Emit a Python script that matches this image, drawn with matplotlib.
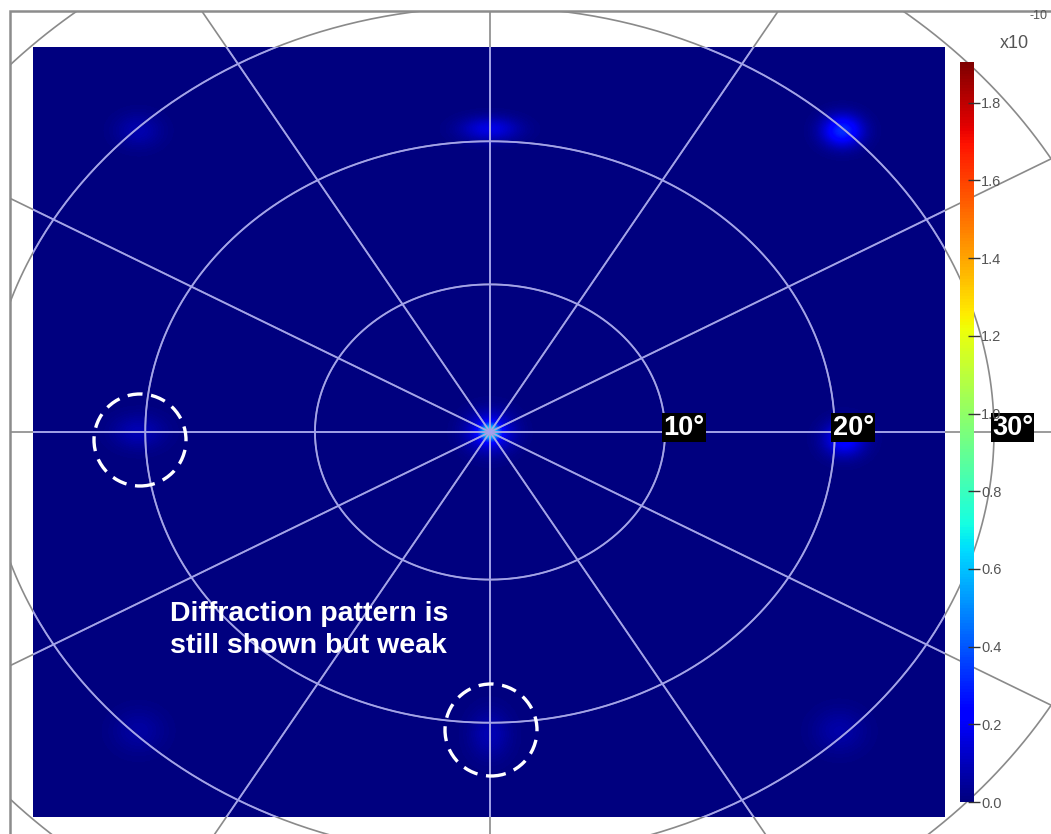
import numpy as np
import matplotlib
matplotlib.use("Agg")
import matplotlib.pyplot as plt
from matplotlib.patches import Rectangle, Ellipse
from matplotlib.colors import Normalize
from matplotlib.cm import ScalarMappable

# ---------------- data ----------------
# diffraction spots, positions in sin(theta) units, peak intensity in 1e-10
spot_x = [0.0, 0.0, 0.0, 0.0, 0.350, -0.349, -0.349, 0.352, 0.0, -0.349, 0.347]
spot_y = [0.0, 0.0, 0.0, 0.357, 0.355, 0.355, 0.0, -0.008, -0.356, -0.352, -0.352]
spot_peak = [1.9, 0.65, 0.25, 0.17, 0.32, 0.08, 0.09, 0.25, 0.09, 0.06, 0.07]
spot_sx = [0.0015, 0.006, 0.016, 0.020, 0.014, 0.016, 0.018, 0.014, 0.014, 0.018, 0.018]
spot_sy = [0.0015, 0.006, 0.016, 0.010, 0.013, 0.014, 0.014, 0.014, 0.020, 0.018, 0.018]

ring_deg = [10, 20, 30, 40]
ring_labels = ["10°", "20°", "30°"]
spoke_deg = list(range(0, 360, 30))

cbar_ticks = [0.0, 0.2, 0.4, 0.6, 0.8, 1.0, 1.2, 1.4, 1.6, 1.8]
cbar_max = 1.905

# ---------------- layout ----------------
W, H = 1051, 834
CX, CY = 490, 432          # pattern centre in pixels
SX, SY = 1008.0, 850.0     # pixels per sin(theta) unit


def px(x, y):
    return (x - CX) / SX, (CY - y) / SY


fig = plt.figure(figsize=(W / 100, H / 100), dpi=100)
fig.patch.set_facecolor("white")
ax = fig.add_axes([0, 0, 1, 1])
ax.set_xlim(-CX / SX, (W - CX) / SX)
ax.set_ylim(-(H - CY) / SY, CY / SY)
ax.axis("off")

# heat map
x0, y0 = px(33, 817)
x1, y1 = px(945, 47)
xs = np.linspace(x0, x1, 912)
ys = np.linspace(y0, y1, 770)
XX, YY = np.meshgrid(xs, ys)
Z = np.zeros_like(XX)
for sx_, sy_, pk, wx, wy in zip(spot_x, spot_y, spot_peak, spot_sx, spot_sy):
    Z += pk * np.exp(-0.5 * (((XX - sx_) / wx) ** 2 + ((YY - sy_) / wy) ** 2))
ax.imshow(Z, origin="lower", extent=[x0, x1, y0, y1], cmap="jet",
          vmin=0, vmax=cbar_max, aspect="auto", interpolation="bilinear", zorder=1)

# frame of the polar axes (top and left edges visible)
fx, fy = px(10, 11)
frame = Rectangle((fx, fy - 2.0), 2.0, 2.0, transform=ax.transData,
                  fill=False, edgecolor="#8c8c8c", lw=1.8, zorder=6)
ax.add_patch(frame)
clip_frame = Rectangle((fx, fy - 2.0), 2.0, 2.0, transform=ax.transData)
clip_img = Rectangle((x0, y0), x1 - x0, y1 - y0, transform=ax.transData)

# polar grid
phi = np.linspace(0, 2 * np.pi, 720)
rmax = np.sin(np.radians(max(ring_deg)))
grid_paths = []
for d in ring_deg:
    r = np.sin(np.radians(d))
    grid_paths.append((r * np.cos(phi), r * np.sin(phi)))
for a in spoke_deg:
    t = np.radians(a)
    grid_paths.append(([0, rmax * np.cos(t)], [0, rmax * np.sin(t)]))

for gx, gy in grid_paths:
    l1, = ax.plot(gx, gy, color="#8a8a8a", lw=1.2, zorder=2)
    l1.set_clip_path(clip_frame)
    l2, = ax.plot(gx, gy, color="#a2a2ee", lw=1.3, zorder=3)
    l2.set_clip_path(clip_img)

# ring labels
for d, lab in zip(ring_deg, ring_labels):
    r = np.sin(np.radians(d))
    ax.text(r - 0.002, 0.005, lab, color="white", fontsize=19.5, fontweight="bold",
            family=["Liberation Sans", "DejaVu Sans"], ha="left", va="center",
            bbox=dict(boxstyle="square,pad=0.05", facecolor="black", edgecolor="none"),
            zorder=8)

# dashed highlight circles
for cx_, cy_ in [(140, 440), (491, 730)]:
    ex, ey = px(cx_, cy_)
    ax.add_patch(Ellipse((ex, ey), 2 * 46 / SX, 2 * 46 / SY, fill=False,
                         edgecolor="white", lw=2.4, linestyle=(0, (4.5, 2.6)), zorder=7))

# annotation
tx, ty = px(170, 601)
ax.text(tx, ty, "Diffraction pattern is\nstill shown but weak", color="white",
        fontsize=20.5, fontweight="bold", family=["Liberation Sans", "DejaVu Sans"],
        ha="left", va="top", linespacing=1.3, zorder=8)

# colour bar
cax = fig.add_axes([960 / W, (H - 802) / H, 14 / W, 740 / H])
sm = ScalarMappable(norm=Normalize(0, cbar_max), cmap="jet")
cb = fig.colorbar(sm, cax=cax)
cb.outline.set_visible(False)
cb.set_ticks(cbar_ticks)
cb.set_ticklabels([f"{v:.1f}" for v in cbar_ticks])
cax.tick_params(direction="inout", length=8, width=1.0, color="#333333",
                labelcolor="#555555", labelsize=10.5, pad=1)
for t in cax.get_yticklabels():
    t.set_family(["Liberation Sans", "DejaVu Sans"])
fig.text(1000 / W, (H - 48) / H, "x10", color="#555555", fontsize=13,
         family=["Liberation Sans", "DejaVu Sans"], ha="left", va="baseline")
fig.text(1029 / W, (H - 19) / H, "-10", color="#555555", fontsize=9,
         family=["Liberation Sans", "DejaVu Sans"], ha="left", va="baseline")

fig.savefig("out.png", dpi=100)
